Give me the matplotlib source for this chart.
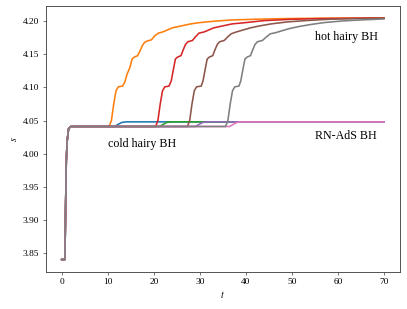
import numpy as np
import matplotlib.pyplot as plt

plt.rcParams['font.family'] = ['Liberation Serif', 'DejaVu Serif']
plt.rcParams['mathtext.fontset'] = 'stix'

# shared early evolution (all runs start from the same data)
t_start = [0.0, 0.7, 0.85, 1.0, 1.2, 1.5, 2.0]
s_start = [3.840, 3.840, 3.920, 3.990, 4.020, 4.038, 4.041]

# cold hairy BH -> RN-AdS BH
t_blue = [11.5, 12.2, 13.0, 14.0, 70.0]
s_blue = [4.041, 4.044, 4.047, 4.048, 4.048]
t_green = [21.2, 22.0, 22.8, 23.7, 70.0]
s_green = [4.041, 4.044, 4.047, 4.048, 4.048]
t_purple = [29.0, 29.8, 30.6, 31.5, 70.0]
s_purple = [4.041, 4.044, 4.047, 4.048, 4.048]
t_pink = [36.5, 37.2, 38.0, 38.8, 70.0]
s_pink = [4.041, 4.044, 4.047, 4.048, 4.048]

# cold hairy BH -> hot hairy BH
t_orange = [10.3, 10.8, 11.3, 11.8, 12.3, 13.2, 13.7, 14.2, 14.8, 15.3, 15.8, 16.5,
            17.0, 17.5, 18.0, 18.5, 19.5, 20.2, 21.0, 22.0, 23.0, 24.0, 26.0, 28.0,
            30.0, 33.0, 37.0, 42.0, 48.0, 55.0, 70.0]
s_orange = [4.041, 4.050, 4.075, 4.095, 4.101, 4.102, 4.108, 4.120, 4.130, 4.143, 4.146, 4.148,
            4.155, 4.163, 4.168, 4.170, 4.172, 4.178, 4.182, 4.184, 4.187, 4.190, 4.193, 4.196,
            4.198, 4.200, 4.202, 4.203, 4.204, 4.2045, 4.205]
t_red = [20.4, 20.9, 21.4, 21.9, 22.4, 23.3, 23.8, 24.2, 24.7, 25.2, 25.9, 26.4, 26.9,
         27.4, 28.4, 29.0, 29.8, 31.0, 32.0, 33.0, 35.0, 37.0, 40.0, 44.0, 50.0, 56.0,
         62.0, 70.0]
s_red = [4.041, 4.050, 4.075, 4.095, 4.101, 4.102, 4.110, 4.125, 4.143, 4.146, 4.148, 4.157, 4.165,
         4.169, 4.171, 4.176, 4.182, 4.184, 4.187, 4.190, 4.193, 4.196, 4.198, 4.201, 4.203, 4.204,
         4.2045, 4.205]
t_brown = [27.3, 27.8, 28.3, 28.8, 29.3, 30.3, 30.7, 31.1, 31.6, 32.1, 32.8, 33.3, 33.8,
           34.3, 35.3, 36.0, 36.8, 38.0, 39.5, 41.0, 43.0, 45.5, 49.0, 53.0, 58.0, 64.0, 70.0]
s_brown = [4.041, 4.050, 4.075, 4.095, 4.101, 4.102, 4.110, 4.125, 4.143, 4.146, 4.148, 4.157, 4.165,
           4.169, 4.171, 4.176, 4.181, 4.184, 4.187, 4.190, 4.193, 4.196, 4.199, 4.201, 4.203, 4.204,
           4.2045]
t_gray = [35.6, 36.1, 36.6, 37.1, 37.6, 38.5, 38.9, 39.3, 39.8, 40.3, 41.0, 41.5, 42.0,
          42.5, 43.6, 44.4, 45.3, 46.6, 48.0, 49.5, 51.5, 54.0, 57.0, 61.0, 65.0, 70.0]
s_gray = [4.041, 4.050, 4.075, 4.095, 4.101, 4.102, 4.110, 4.125, 4.143, 4.146, 4.148, 4.157, 4.165,
          4.169, 4.171, 4.176, 4.181, 4.183, 4.186, 4.189, 4.192, 4.195, 4.198, 4.2005, 4.202, 4.2035]

# plotting order follows the default colour cycle
runs = [
    (t_blue, s_blue, 'C0'),
    (t_orange, s_orange, 'C1'),
    (t_green, s_green, 'C2'),
    (t_red, s_red, 'C3'),
    (t_purple, s_purple, 'C4'),
    (t_brown, s_brown, 'C5'),
    (t_pink, s_pink, 'C6'),
    (t_gray, s_gray, 'C7'),
]

fig = plt.figure(figsize=(407 / 64, 309 / 64), dpi=64)
ax = fig.add_axes([0.112, 0.121, 0.871, 0.860])

for t_run, s_run, col in runs:
    t = np.array(t_start + t_run)
    s = np.array(s_start + s_run)
    ax.plot(t, s, color=col, lw=1.8)

ax.text(55, 4.176, 'hot hairy BH', fontsize=13.5, va='center')
ax.text(55, 4.026, 'RN-AdS BH', fontsize=13.5, va='center')
ax.text(10, 4.014, 'cold hairy BH', fontsize=13.5, va='center')

ax.set_xlabel('$t$', fontsize=11)
ax.set_ylabel('$s$', fontsize=11)
ax.set_xticks(np.arange(0, 71, 10))
ax.set_yticks([3.85, 3.90, 3.95, 4.00, 4.05, 4.10, 4.15, 4.20])
ax.yaxis.set_major_formatter(plt.FormatStrFormatter('%.2f'))
ax.tick_params(labelsize=10.5, color='#444444')
for sp in ax.spines.values():
    sp.set_color('#444444')
    sp.set_linewidth(1.0)

fig.savefig('out.png', dpi=64)
